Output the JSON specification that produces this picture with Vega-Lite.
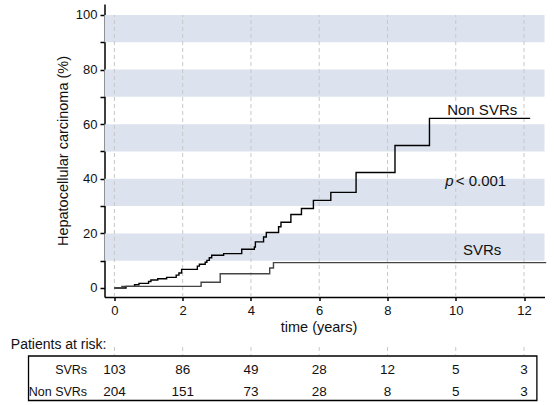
{
  "$schema": "https://vega.github.io/schema/vega-lite/v6.json",
  "padding": {"left": 10.5, "top": 4, "right": 0, "bottom": 0},
  "autosize": {"type": "pad"},
  "bounds": "flush",
  "spacing": 59,
  "config": {
    "font": "Liberation Sans",
    "view": {"stroke": null},
    "text": {"font": "Liberation Sans", "color": "#111"},
    "axis": {
      "domainColor": "#000", "tickColor": "#000", "labelColor": "#111", "titleColor": "#111",
      "labelFont": "Liberation Sans", "titleFont": "Liberation Sans", "titleFontWeight": "normal",
      "labelFontSize": 13, "titleFontSize": 14.5, "grid": false, "domainWidth": 1.5, "tickWidth": 1.5
    }
  },
  "datasets": {
    "bands": [
      {"lo": 10, "hi": 20}, {"lo": 30, "hi": 40}, {"lo": 50, "hi": 60}, {"lo": 70, "hi": 80}, {"lo": 90, "hi": 100}
    ],
    "ticks": [{"t": 0}, {"t": 2}, {"t": 4}, {"t": 6}, {"t": 8}, {"t": 10}, {"t": 12}],
    "km": [
      {"group": "Non SVRs", "t": 0, "v": 0},
      {"group": "Non SVRs", "t": 0.34, "v": 0.6},
      {"group": "Non SVRs", "t": 0.59, "v": 1.2},
      {"group": "Non SVRs", "t": 0.72, "v": 1.7},
      {"group": "Non SVRs", "t": 1.0, "v": 2.4},
      {"group": "Non SVRs", "t": 1.07, "v": 2.9},
      {"group": "Non SVRs", "t": 1.27, "v": 3.4},
      {"group": "Non SVRs", "t": 1.53, "v": 3.9},
      {"group": "Non SVRs", "t": 1.81, "v": 4.7},
      {"group": "Non SVRs", "t": 1.89, "v": 5.5},
      {"group": "Non SVRs", "t": 1.97, "v": 6.8},
      {"group": "Non SVRs", "t": 2.43, "v": 8.0},
      {"group": "Non SVRs", "t": 2.49, "v": 8.7},
      {"group": "Non SVRs", "t": 2.66, "v": 9.4},
      {"group": "Non SVRs", "t": 2.71, "v": 10.1},
      {"group": "Non SVRs", "t": 2.78, "v": 11.1},
      {"group": "Non SVRs", "t": 2.85, "v": 12.0},
      {"group": "Non SVRs", "t": 3.2, "v": 12.6},
      {"group": "Non SVRs", "t": 3.73, "v": 14.2},
      {"group": "Non SVRs", "t": 4.1, "v": 15.0},
      {"group": "Non SVRs", "t": 4.13, "v": 16.9},
      {"group": "Non SVRs", "t": 4.37, "v": 18.7},
      {"group": "Non SVRs", "t": 4.45, "v": 20.3},
      {"group": "Non SVRs", "t": 4.81, "v": 22.4},
      {"group": "Non SVRs", "t": 4.88, "v": 24.1},
      {"group": "Non SVRs", "t": 5.17, "v": 26.9},
      {"group": "Non SVRs", "t": 5.48, "v": 29.1},
      {"group": "Non SVRs", "t": 5.83, "v": 32.1},
      {"group": "Non SVRs", "t": 6.34, "v": 35.0},
      {"group": "Non SVRs", "t": 7.08, "v": 42.3},
      {"group": "Non SVRs", "t": 8.22, "v": 52.2},
      {"group": "Non SVRs", "t": 9.23, "v": 62.1},
      {"group": "Non SVRs", "t": 12.18, "v": 62.1},
      {"group": "SVRs", "t": 0, "v": 0},
      {"group": "SVRs", "t": 0.22, "v": 0.6},
      {"group": "SVRs", "t": 2.54, "v": 2.1},
      {"group": "SVRs", "t": 3.1, "v": 5.2},
      {"group": "SVRs", "t": 4.55, "v": 7.3},
      {"group": "SVRs", "t": 4.66, "v": 9.3},
      {"group": "SVRs", "t": 12.65, "v": 9.3}
    ],
    "risk": [
      {"group": "SVRs", "row": 1, "t": 0, "n": 103},
      {"group": "SVRs", "row": 1, "t": 2, "n": 86},
      {"group": "SVRs", "row": 1, "t": 4, "n": 49},
      {"group": "SVRs", "row": 1, "t": 6, "n": 28},
      {"group": "SVRs", "row": 1, "t": 8, "n": 12},
      {"group": "SVRs", "row": 1, "t": 10, "n": 5},
      {"group": "SVRs", "row": 1, "t": 12, "n": 3},
      {"group": "Non SVRs", "row": 2, "t": 0, "n": 204},
      {"group": "Non SVRs", "row": 2, "t": 2, "n": 151},
      {"group": "Non SVRs", "row": 2, "t": 4, "n": 73},
      {"group": "Non SVRs", "row": 2, "t": 6, "n": 28},
      {"group": "Non SVRs", "row": 2, "t": 8, "n": 8},
      {"group": "Non SVRs", "row": 2, "t": 10, "n": 5},
      {"group": "Non SVRs", "row": 2, "t": 12, "n": 3}
    ],
    "groups": [
      {"group": "SVRs", "row": 1},
      {"group": "Non SVRs", "row": 2}
    ]
  },
  "vconcat": [
    {
      "width": 440,
      "height": 293,
      "encoding": {
        "x": {
          "type": "quantitative",
          "scale": {"domain": [-0.29, 12.6], "nice": false, "zero": false},
          "axis": {"values": [0, 2, 4, 6, 8, 10, 12], "title": "time (years)", "tickSize": 3.5, "labelPadding": 4, "titlePadding": 3, "titleX": 214, "labelFlush": false}
        },
        "y": {
          "type": "quantitative",
          "scale": {"domain": [-3.3, 104], "nice": false, "zero": false},
          "axis": {"values": [0, 10, 20, 30, 40, 50, 60, 70, 80, 90, 100], "labelExpr": "datum.value % 20 === 0 ? datum.label : ''", "title": "Hepatocellular carcinoma (%)", "tickSize": 4.5, "labelPadding": 3, "titlePadding": 5}
        }
      },
      "layer": [
        {
          "data": {"name": "bands"},
          "mark": {"type": "rect", "color": "#dce3ee"},
          "encoding": {
            "x": {"datum": -0.29},
            "x2": {"datum": 12.6},
            "y": {"field": "lo"},
            "y2": {"field": "hi"}
          }
        },
        {
          "data": {"name": "ticks"},
          "mark": {"type": "rule", "color": "#c8c8c8", "strokeDash": [4, 3], "strokeWidth": 1},
          "encoding": {
            "x": {"field": "t"},
            "y": {"datum": -3.3},
            "y2": {"datum": 100}
          }
        },
        {
          "data": {"name": "km"},
          "mark": {"type": "line", "interpolate": "step-after", "strokeWidth": 1.4},
          "encoding": {
            "x": {"field": "t"},
            "y": {"field": "v"},
            "color": {"field": "group", "type": "nominal", "scale": {"domain": ["Non SVRs", "SVRs"], "range": ["#000000", "#444444"]}, "legend": null},
            "order": {"field": "t", "type": "quantitative"}
          }
        },
        {
          "data": {"values": [{"label": "Non SVRs"}]},
          "mark": {"type": "text", "fontSize": 15, "align": "center", "baseline": "alphabetic"},
          "encoding": {
            "x": {"datum": 10.775},
            "y": {"datum": 63.4},
            "text": {"field": "label"}
          }
        },
        {
          "data": {"values": [{"label": "SVRs"}]},
          "mark": {"type": "text", "fontSize": 15, "align": "center", "baseline": "alphabetic"},
          "encoding": {
            "x": {"datum": 10.775},
            "y": {"datum": 12.1},
            "text": {"field": "label"}
          }
        },
        {
          "data": {"values": [{"label": "p"}]},
          "mark": {"type": "text", "fontSize": 15, "fontStyle": "italic", "align": "left", "baseline": "alphabetic"},
          "encoding": {
            "x": {"datum": 9.69},
            "y": {"datum": 37.5},
            "text": {"field": "label"}
          }
        },
        {
          "data": {"values": [{"label": "< 0.001"}]},
          "mark": {"type": "text", "fontSize": 15, "align": "left", "baseline": "alphabetic"},
          "encoding": {
            "x": {"datum": 10.0},
            "y": {"datum": 37.5},
            "text": {"field": "label"}
          }
        }
      ]
    },
    {
      "width": 440,
      "height": 44.5,
      "encoding": {
        "x": {"type": "quantitative", "scale": {"domain": [-0.29, 12.6], "nice": false, "zero": false}, "axis": null},
        "y": {"type": "quantitative", "scale": {"domain": [0.17, 2.22], "nice": false, "zero": false, "reverse": true}, "axis": null}
      },
      "layer": [
        {
          "data": {"values": [{"label": "box"}]},
          "mark": {"type": "rect", "filled": false, "color": "#000", "strokeWidth": 1.3},
          "encoding": {
            "x": {"datum": -2.516},
            "x2": {"datum": 12.377},
            "y": {"datum": 0.17},
            "y2": {"datum": 2.22}
          }
        },
        {
          "data": {"name": "ticks"},
          "mark": {"type": "rule", "color": "#c8c8c8", "strokeDash": [4, 3], "strokeWidth": 1},
          "encoding": {
            "x": {"field": "t"},
            "y": {"datum": -0.245},
            "y2": {"datum": 0.124}
          }
        },
        {
          "data": {"values": [{"label": "Patients at risk:"}]},
          "mark": {"type": "text", "fontSize": 14, "align": "left", "baseline": "alphabetic"},
          "encoding": {
            "x": {"datum": -3.035},
            "y": {"datum": -0.13},
            "text": {"field": "label"}
          }
        },
        {
          "data": {"name": "groups"},
          "mark": {"type": "text", "fontSize": 12.5, "align": "right", "baseline": "alphabetic"},
          "encoding": {
            "x": {"datum": -0.8},
            "y": {"field": "row"},
            "text": {"field": "group"}
          }
        },
        {
          "data": {"name": "risk"},
          "mark": {"type": "text", "fontSize": 13.5, "align": "center", "baseline": "alphabetic"},
          "encoding": {
            "x": {"field": "t"},
            "y": {"field": "row"},
            "text": {"field": "n"}
          }
        }
      ]
    }
  ]
}
